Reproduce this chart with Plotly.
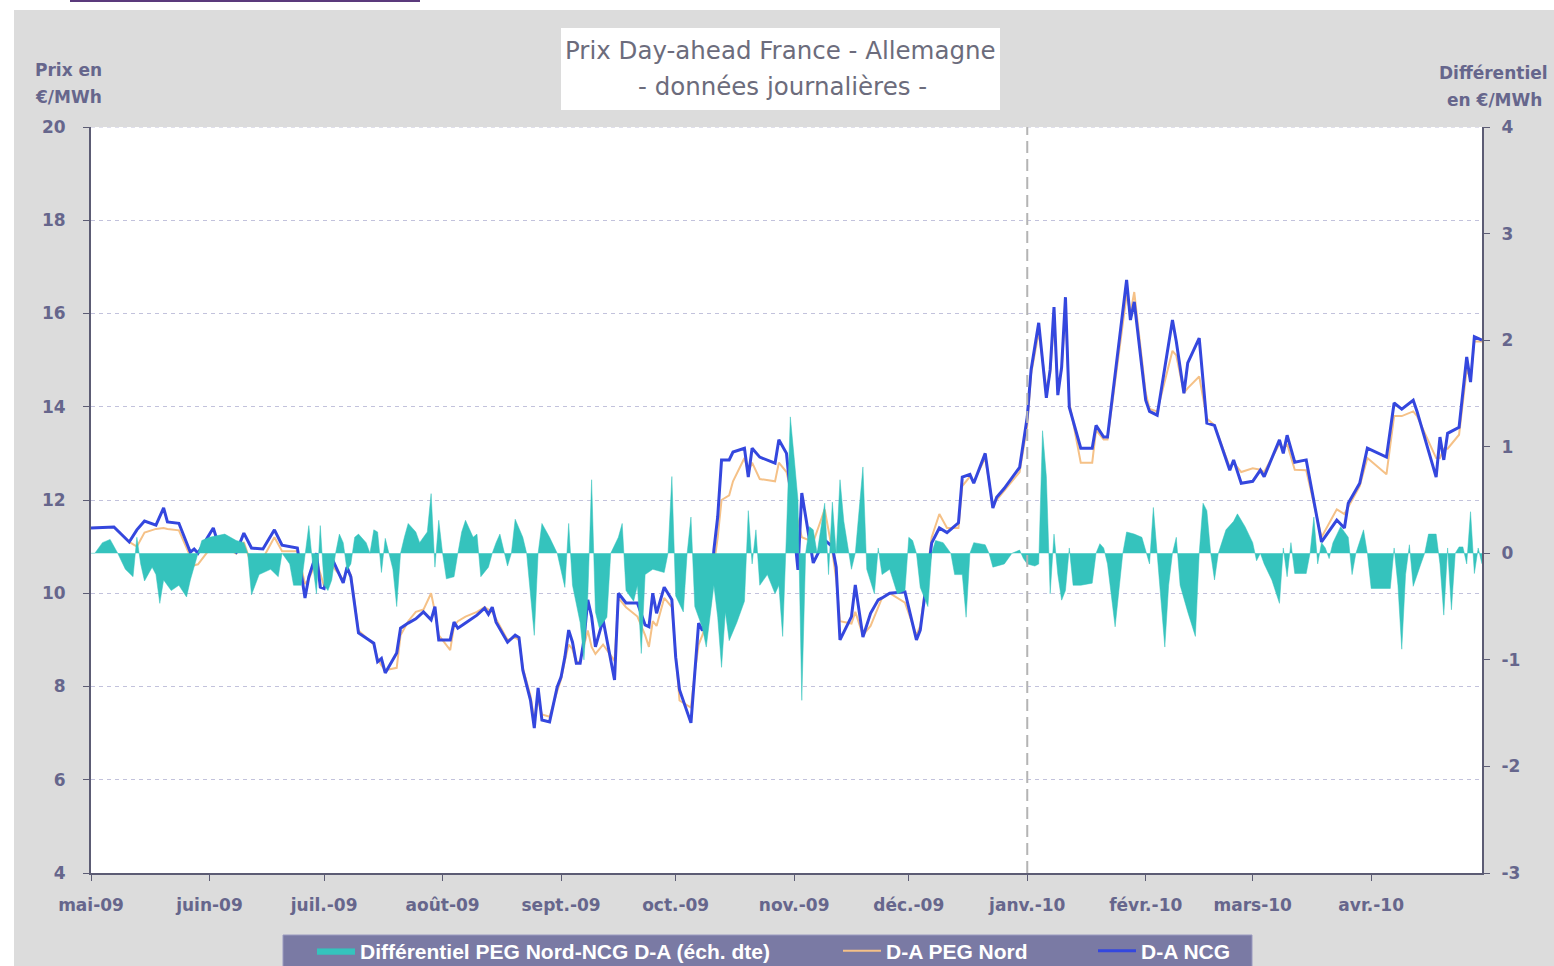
import plotly.graph_objects as go

# D-A NCG (blue) and D-A PEG Nord (orange), €/MWh, left axis
price_dates = [
    "2009-05-01", "2009-05-07", "2009-05-11", "2009-05-13", "2009-05-15", "2009-05-18", "2009-05-20",
    "2009-05-21", "2009-05-24", "2009-05-27", "2009-05-28", "2009-05-29",
    "2009-06-02", "2009-06-03", "2009-06-08", "2009-06-10", "2009-06-12", "2009-06-15", "2009-06-18",
    "2009-06-20", "2009-06-24", "2009-06-26", "2009-06-27", "2009-06-29", "2009-06-30",
    "2009-07-01", "2009-07-03", "2009-07-06", "2009-07-07", "2009-07-08", "2009-07-10", "2009-07-14",
    "2009-07-15", "2009-07-16", "2009-07-17", "2009-07-20", "2009-07-21", "2009-07-23", "2009-07-25",
    "2009-07-27", "2009-07-29", "2009-07-30", "2009-07-31",
    "2009-08-03", "2009-08-04", "2009-08-05", "2009-08-07", "2009-08-10", "2009-08-12", "2009-08-13",
    "2009-08-14", "2009-08-15", "2009-08-18", "2009-08-20", "2009-08-21", "2009-08-22", "2009-08-24",
    "2009-08-25", "2009-08-26", "2009-08-27", "2009-08-29", "2009-08-31",
    "2009-09-01", "2009-09-02", "2009-09-03", "2009-09-04", "2009-09-05", "2009-09-06", "2009-09-07",
    "2009-09-08", "2009-09-09", "2009-09-10", "2009-09-12", "2009-09-15", "2009-09-16", "2009-09-18",
    "2009-09-21", "2009-09-23", "2009-09-24", "2009-09-25", "2009-09-26", "2009-09-28", "2009-09-30",
    "2009-10-01", "2009-10-02", "2009-10-05", "2009-10-06", "2009-10-07", "2009-10-08", "2009-10-10",
    "2009-10-11", "2009-10-12", "2009-10-13", "2009-10-15", "2009-10-16", "2009-10-19", "2009-10-20",
    "2009-10-21", "2009-10-23", "2009-10-27", "2009-10-28", "2009-10-30",
    "2009-11-02", "2009-11-03", "2009-11-06", "2009-11-09", "2009-11-11", "2009-11-12", "2009-11-13",
    "2009-11-16", "2009-11-17", "2009-11-19", "2009-11-21", "2009-11-23", "2009-11-24", "2009-11-26",
    "2009-11-30",
    "2009-12-03", "2009-12-04", "2009-12-07", "2009-12-09", "2009-12-11", "2009-12-14", "2009-12-15",
    "2009-12-17", "2009-12-18", "2009-12-21", "2009-12-23", "2009-12-24", "2009-12-26", "2009-12-30",
    "2010-01-01", "2010-01-02", "2010-01-04", "2010-01-06", "2010-01-07", "2010-01-08", "2010-01-09",
    "2010-01-10", "2010-01-11", "2010-01-12", "2010-01-15", "2010-01-18", "2010-01-19", "2010-01-21",
    "2010-01-22", "2010-01-27", "2010-01-28", "2010-01-29",
    "2010-02-01", "2010-02-02", "2010-02-04", "2010-02-08", "2010-02-09", "2010-02-11", "2010-02-12",
    "2010-02-15", "2010-02-17", "2010-02-19", "2010-02-23", "2010-02-24", "2010-02-26",
    "2010-03-01", "2010-03-03", "2010-03-04", "2010-03-08", "2010-03-09", "2010-03-10", "2010-03-12",
    "2010-03-15", "2010-03-19", "2010-03-23", "2010-03-25", "2010-03-26", "2010-03-29", "2010-03-31",
    "2010-04-05", "2010-04-07", "2010-04-09", "2010-04-12", "2010-04-13", "2010-04-18", "2010-04-19",
    "2010-04-20", "2010-04-21", "2010-04-24", "2010-04-26", "2010-04-27", "2010-04-28", "2010-04-30",
]

ncg = [
    11.40, 11.42, 11.10, 11.36, 11.55, 11.46, 11.83, 11.53, 11.50, 10.88, 10.95, 10.86,
    11.40, 11.14, 10.88, 11.29, 10.97, 10.95, 11.36, 11.03, 10.97, 9.90, 10.35, 10.86, 10.13,
    10.10, 10.76, 10.22, 10.56, 10.35, 9.15, 8.93, 8.53, 8.60, 8.29, 8.72, 9.25, 9.36, 9.45,
    9.60, 9.43, 9.71, 9.00,
    9.00, 9.38, 9.25, 9.36, 9.53, 9.68, 9.55, 9.70, 9.38, 8.95, 9.10, 9.05, 8.35, 7.71,
    7.11, 7.97, 7.28, 7.24, 7.99,
    8.20, 8.63, 9.21, 8.95, 8.50, 8.50, 9.00, 9.86, 9.50, 8.85, 9.43, 8.14, 10.00, 9.79,
    9.79, 9.32, 9.28, 10.00, 9.57, 10.13, 9.86,
    8.63, 7.93, 7.22, 8.29, 9.36, 9.20, 9.86, 10.93, 11.64, 12.86, 12.86, 13.03, 13.11, 12.49,
    13.11, 12.92, 12.79, 13.29, 13.00,
    10.50, 12.15, 10.65, 11.14, 11.00, 10.56, 9.00, 9.50, 10.18, 9.06, 9.57, 9.86, 9.90, 10.00,
    10.03,
    9.00, 9.21, 11.08, 11.40, 11.30, 11.51, 12.49, 12.55, 12.36, 13.00, 11.83, 12.06, 12.25, 12.70,
    13.78, 14.79, 15.80, 14.19, 14.80, 16.14, 14.25, 14.85, 16.35, 13.99, 13.11, 13.11, 13.60, 13.35,
    13.35, 16.72, 15.86, 16.25,
    14.14, 13.90, 13.82, 15.86, 15.40, 14.29, 14.94, 15.47, 13.65, 13.60, 12.64, 12.86, 12.36,
    12.40, 12.64, 12.50, 13.29, 13.00, 13.39, 12.81, 12.86, 11.10, 11.57, 11.40, 11.93, 12.36, 13.11,
    12.92, 14.08, 13.95, 14.14, 13.90, 12.49, 13.35, 12.86, 13.43, 13.56, 15.07, 14.53, 15.50, 15.43,
]

peg_nord = [
    11.40, 11.42, 11.10, 11.00, 11.30, 11.38, 11.40, 11.38, 11.35, 10.80, 10.60, 10.62,
    11.05, 11.10, 10.85, 11.10, 10.60, 10.75, 11.20, 10.90, 10.90, 10.20, 10.30, 10.70, 10.40,
    10.15, 10.60, 10.30, 10.50, 10.40, 9.20, 8.90, 8.60, 8.45, 8.35, 8.40, 9.10, 9.40, 9.60,
    9.65, 10.00, 9.60, 9.10,
    8.78, 9.30, 9.40, 9.50, 9.60, 9.70, 9.65, 9.60, 9.45, 9.00, 9.05, 9.00, 8.40, 7.80,
    7.30, 7.70, 7.40, 7.35, 7.90,
    8.15, 8.55, 8.90, 8.80, 8.50, 8.55, 8.90, 9.20, 8.85, 8.70, 8.90, 8.55, 9.90, 9.70,
    9.50, 9.10, 8.85, 9.40, 9.30, 9.90, 9.70,
    8.60, 7.70, 7.55, 8.30, 8.90, 9.10, 9.70, 10.60, 11.20, 12.00, 12.10, 12.40, 12.90, 12.60,
    12.80, 12.45, 12.40, 12.80, 12.60,
    11.50, 11.20, 11.10, 11.80, 10.90, 10.30, 9.40, 9.35, 9.60, 9.10, 9.30, 9.70, 9.90, 10.00,
    9.80,
    9.10, 9.30, 11.20, 11.70, 11.40, 11.40, 12.30, 12.50, 12.40, 12.90, 11.90, 12.00, 12.20, 12.60,
    13.60, 14.70, 15.60, 14.40, 14.70, 15.90, 14.40, 14.80, 16.10, 14.10, 12.80, 12.80, 13.50, 13.30,
    13.30, 16.40, 16.00, 16.46,
    14.30, 13.95, 13.90, 15.20, 15.10, 14.30, 14.40, 14.65, 13.75, 13.60, 12.70, 12.80, 12.60,
    12.68, 12.65, 12.60, 13.20, 13.10, 13.20, 12.65, 12.64, 11.20, 11.80, 11.70, 11.85, 12.30, 12.90,
    12.55, 13.80, 13.80, 13.90, 13.80, 12.90, 12.90, 13.10, 13.10, 13.40, 14.80, 14.60, 15.40, 15.40,
]

# Différentiel PEG Nord - NCG D-A, €/MWh, right axis
diff_points = [
    ("2009-05-01", 0.00), ("2009-05-02", 0.00), ("2009-05-04", 0.10), ("2009-05-06", 0.13),
    ("2009-05-08", 0.00), ("2009-05-10", -0.15), ("2009-05-12", -0.22), ("2009-05-13", 0.15),
    ("2009-05-14", -0.10), ("2009-05-15", -0.26), ("2009-05-17", -0.13), ("2009-05-18", -0.20),
    ("2009-05-19", -0.47), ("2009-05-20", -0.25), ("2009-05-22", -0.35), ("2009-05-24", -0.30),
    ("2009-05-26", -0.41), ("2009-05-27", -0.25), ("2009-05-29", 0.00), ("2009-05-30", 0.12),
    ("2009-06-01", 0.15), ("2009-06-05", 0.18), ("2009-06-08", 0.12), ("2009-06-10", 0.10),
    ("2009-06-11", 0.00), ("2009-06-12", -0.39), ("2009-06-14", -0.20), ("2009-06-17", -0.15),
    ("2009-06-19", -0.22), ("2009-06-20", 0.00), ("2009-06-22", -0.10), ("2009-06-23", -0.30),
    ("2009-06-25", -0.30), ("2009-06-26", 0.00), ("2009-06-27", 0.26), ("2009-06-28", -0.10),
    ("2009-06-29", -0.38), ("2009-06-30", 0.26), ("2009-07-01", -0.30), ("2009-07-02", -0.35),
    ("2009-07-03", -0.25), ("2009-07-04", 0.00), ("2009-07-05", 0.18), ("2009-07-06", 0.10),
    ("2009-07-07", -0.16), ("2009-07-08", -0.10), ("2009-07-09", 0.15), ("2009-07-10", 0.18),
    ("2009-07-12", 0.10), ("2009-07-13", 0.00), ("2009-07-14", 0.22), ("2009-07-15", 0.20),
    ("2009-07-16", -0.18), ("2009-07-17", 0.14), ("2009-07-19", -0.15), ("2009-07-20", -0.50),
    ("2009-07-21", 0.00), ("2009-07-22", 0.15), ("2009-07-23", 0.28), ("2009-07-25", 0.20),
    ("2009-07-26", 0.10), ("2009-07-27", 0.15), ("2009-07-28", 0.20), ("2009-07-29", 0.56),
    ("2009-07-30", -0.13), ("2009-07-31", 0.31), ("2009-08-01", 0.00), ("2009-08-02", -0.24),
    ("2009-08-04", -0.22), ("2009-08-05", 0.00), ("2009-08-06", 0.20), ("2009-08-07", 0.31),
    ("2009-08-09", 0.15), ("2009-08-10", 0.18), ("2009-08-11", -0.22), ("2009-08-13", -0.13),
    ("2009-08-14", 0.00), ("2009-08-15", 0.10), ("2009-08-16", 0.18), ("2009-08-18", -0.12),
    ("2009-08-19", 0.00), ("2009-08-20", 0.32), ("2009-08-22", 0.15), ("2009-08-23", 0.00),
    ("2009-08-25", -0.77), ("2009-08-26", 0.00), ("2009-08-27", 0.28), ("2009-08-29", 0.15),
    ("2009-08-31", 0.00), ("2009-09-02", -0.32), ("2009-09-03", 0.28), ("2009-09-04", -0.30),
    ("2009-09-06", -0.65), ("2009-09-07", -1.00), ("2009-09-08", -0.40), ("2009-09-09", 0.69),
    ("2009-09-10", -0.55), ("2009-09-11", -0.70), ("2009-09-13", -0.60), ("2009-09-14", 0.00),
    ("2009-09-16", 0.15), ("2009-09-17", 0.28), ("2009-09-18", -0.35), ("2009-09-20", -0.45),
    ("2009-09-21", -0.30), ("2009-09-22", -0.94), ("2009-09-23", -0.20), ("2009-09-25", -0.15),
    ("2009-09-28", -0.18), ("2009-09-29", 0.00), ("2009-09-30", 0.72), ("2009-10-01", -0.40),
    ("2009-10-03", -0.55), ("2009-10-04", 0.00), ("2009-10-05", 0.34), ("2009-10-06", -0.50),
    ("2009-10-08", -0.70), ("2009-10-09", -0.88), ("2009-10-11", -0.30), ("2009-10-12", -0.60),
    ("2009-10-13", -1.07), ("2009-10-14", -0.55), ("2009-10-15", -0.82), ("2009-10-17", -0.65),
    ("2009-10-19", -0.45), ("2009-10-20", 0.40), ("2009-10-21", -0.10), ("2009-10-22", 0.22),
    ("2009-10-23", -0.30), ("2009-10-25", -0.20), ("2009-10-27", -0.38), ("2009-10-28", -0.30),
    ("2009-10-29", -0.78), ("2009-10-30", 0.20), ("2009-10-31", 1.28), ("2009-11-01", 0.90),
    ("2009-11-02", 0.50), ("2009-11-03", -1.38), ("2009-11-04", 0.00), ("2009-11-05", 0.25),
    ("2009-11-06", 0.22), ("2009-11-07", 0.00), ("2009-11-09", 0.47), ("2009-11-10", -0.20),
    ("2009-11-11", 0.48), ("2009-11-12", 0.00), ("2009-11-13", 0.69), ("2009-11-14", 0.30),
    ("2009-11-16", -0.15), ("2009-11-17", 0.00), ("2009-11-19", 0.81), ("2009-11-20", -0.15),
    ("2009-11-22", -0.38), ("2009-11-23", 0.05), ("2009-11-24", -0.20), ("2009-11-26", -0.15),
    ("2009-11-28", -0.38), ("2009-11-30", -0.35), ("2009-12-01", 0.15), ("2009-12-02", 0.12),
    ("2009-12-03", 0.00), ("2009-12-04", -0.32), ("2009-12-06", -0.50), ("2009-12-07", 0.00),
    ("2009-12-08", 0.12), ("2009-12-10", 0.10), ("2009-12-12", 0.00), ("2009-12-13", -0.20),
    ("2009-12-15", -0.20), ("2009-12-16", -0.60), ("2009-12-17", 0.00), ("2009-12-18", 0.10),
    ("2009-12-21", 0.08), ("2009-12-22", 0.00), ("2009-12-23", -0.13), ("2009-12-26", -0.10),
    ("2009-12-28", 0.00), ("2009-12-30", 0.03), ("2009-12-31", -0.05), ("2010-01-01", -0.10),
    ("2010-01-03", -0.12), ("2010-01-04", -0.10), ("2010-01-05", 1.15), ("2010-01-06", 0.72),
    ("2010-01-07", -0.38), ("2010-01-08", 0.18), ("2010-01-09", -0.20), ("2010-01-10", -0.44),
    ("2010-01-11", -0.35), ("2010-01-12", 0.05), ("2010-01-13", -0.30), ("2010-01-15", -0.30),
    ("2010-01-18", -0.28), ("2010-01-19", 0.00), ("2010-01-20", 0.09), ("2010-01-21", 0.05),
    ("2010-01-22", -0.10), ("2010-01-24", -0.69), ("2010-01-26", 0.00), ("2010-01-27", 0.20),
    ("2010-01-29", 0.18), ("2010-01-31", 0.15), ("2010-02-02", -0.10), ("2010-02-03", 0.43),
    ("2010-02-04", 0.00), ("2010-02-05", -0.40), ("2010-02-06", -0.88), ("2010-02-07", -0.30),
    ("2010-02-08", 0.00), ("2010-02-09", 0.15), ("2010-02-10", -0.30), ("2010-02-12", -0.55),
    ("2010-02-14", -0.78), ("2010-02-15", 0.00), ("2010-02-16", 0.47), ("2010-02-17", 0.40),
    ("2010-02-18", 0.00), ("2010-02-19", -0.25), ("2010-02-20", 0.00), ("2010-02-22", 0.22),
    ("2010-02-24", 0.30), ("2010-02-25", 0.37), ("2010-02-27", 0.25), ("2010-03-01", 0.10),
    ("2010-03-02", -0.07), ("2010-03-03", 0.00), ("2010-03-04", -0.10), ("2010-03-06", -0.25),
    ("2010-03-08", -0.47), ("2010-03-09", 0.05), ("2010-03-10", -0.22), ("2010-03-11", 0.10),
    ("2010-03-12", -0.19), ("2010-03-15", -0.19), ("2010-03-16", 0.00), ("2010-03-17", 0.34),
    ("2010-03-18", -0.10), ("2010-03-19", 0.10), ("2010-03-20", 0.05), ("2010-03-21", -0.05),
    ("2010-03-22", 0.10), ("2010-03-24", 0.25), ("2010-03-26", 0.15), ("2010-03-27", -0.20),
    ("2010-03-28", 0.00), ("2010-03-30", 0.22), ("2010-03-31", 0.00), ("2010-04-01", -0.33),
    ("2010-04-06", -0.33), ("2010-04-07", 0.05), ("2010-04-08", -0.30), ("2010-04-09", -0.90),
    ("2010-04-10", -0.20), ("2010-04-11", 0.08), ("2010-04-12", -0.31), ("2010-04-14", -0.10),
    ("2010-04-15", 0.00), ("2010-04-16", 0.18), ("2010-04-18", 0.18), ("2010-04-19", -0.10),
    ("2010-04-20", -0.58), ("2010-04-21", 0.05), ("2010-04-22", -0.53), ("2010-04-23", 0.00),
    ("2010-04-24", 0.06), ("2010-04-25", 0.06), ("2010-04-26", -0.10), ("2010-04-27", 0.39),
    ("2010-04-28", -0.19), ("2010-04-29", 0.05), ("2010-04-30", -0.10),
]
diff_dates = [d for d, _ in diff_points]
diff_values = [v for _, v in diff_points]

month_ticks = ["2009-05-01", "2009-06-01", "2009-07-01", "2009-08-01", "2009-09-01", "2009-10-01",
               "2009-11-01", "2009-12-01", "2010-01-01", "2010-02-01", "2010-03-01", "2010-04-01"]
month_labels = ["mai-09", "juin-09", "juil.-09", "août-09", "sept.-09", "oct.-09",
                "nov.-09", "déc.-09", "janv.-10", "févr.-10", "mars-10", "avr.-10"]
diff_ticks = [-3, -2, -1, 0, 1, 2, 3, 4]
diff_labels = ["-3", "-2", "-1", "0", "1", "2", "3", "4"]

TEAL = "#35c3bd"
ORANGE = "#f5c187"
BLUE = "#3447de"
AXIS = "#5c5c74"
TXT = "#66668c"

W, H = 1554, 966

# plot area in pixels: x 91..1482, y 127..873
def px(x):
    return (x - 91) / 1391

def py(y):
    return (873 - y) / 746

fig = go.Figure()

fig.add_trace(go.Scatter(
    x=diff_dates, y=diff_values, name="Différentiel PEG Nord-NCG D-A (éch. dte)",
    yaxis="y2", mode="lines", line=dict(color=TEAL, width=0.5),
    fill="tozeroy", fillcolor=TEAL, legend="legend", showlegend=True,
))
fig.add_trace(go.Scatter(
    x=price_dates, y=peg_nord, name="D-A PEG Nord", mode="lines",
    line=dict(color=ORANGE, width=2), legend="legend2", showlegend=True,
))
fig.add_trace(go.Scatter(
    x=price_dates, y=ncg, name="D-A NCG", mode="lines",
    line=dict(color=BLUE, width=3), legend="legend3", showlegend=True,
))

leg_font = dict(family="Liberation Sans, Arial, sans-serif", size=21, color="white", weight="bold")
leg_common = dict(orientation="h", bgcolor="rgba(0,0,0,0)", borderwidth=0, font=leg_font,
                  xref="container", yref="container", yanchor="middle", xanchor="left",
                  y=(H - 951) / H, itemwidth=38)

def label(text, x, y, size, color, **kw):
    return dict(text=text, xref="paper", yref="paper", x=px(x), y=py(y), showarrow=False,
                xanchor="center", yanchor="middle", font=dict(size=size, color=color), **kw)

fig.update_layout(
    width=W, height=H,
    showlegend=True,
    margin=dict(l=91, r=72, t=127, b=93, autoexpand=False),
    paper_bgcolor="#dcdcdc", plot_bgcolor="white",
    font=dict(family="DejaVu Sans, sans-serif", color=TXT),
    xaxis=dict(
        type="date", range=["2009-05-01", "2010-04-30"],
        tickvals=month_ticks, ticktext=month_labels,
        ticks="outside", ticklen=6, tickcolor=AXIS, tickwidth=1,
        showline=True, linecolor=AXIS, linewidth=2, showgrid=False, zeroline=False,
        tickfont=dict(size=17, weight="bold", color=TXT), ticklabelstandoff=10,
    ),
    yaxis=dict(
        range=[4, 20], dtick=2, ticks="outside", ticklen=6, tickcolor=AXIS,
        showline=True, linecolor=AXIS, linewidth=2, zeroline=False,
        showgrid=True, gridcolor="#c2c2dc", gridwidth=1, griddash="4px,4px",
        tickfont=dict(size=17, weight="bold", color=TXT), ticklabelstandoff=14,
    ),
    yaxis2=dict(
        overlaying="y", side="right", range=[-3, 4],
        tickvals=diff_ticks, ticktext=diff_labels,
        ticks="outside", ticklen=6, tickcolor=AXIS,
        showline=True, linecolor=AXIS, linewidth=2, showgrid=False, zeroline=False,
        tickfont=dict(size=17, weight="bold", color=TXT), ticklabelstandoff=8,
    ),
    legend=dict(x=312 / W, **leg_common),
    legend2=dict(x=838 / W, **leg_common),
    legend3=dict(x=1093 / W, **leg_common),
    shapes=[
        # white page strips around the chart frame
        dict(type="rect", xref="paper", yref="paper", x0=px(0), x1=px(1554), y0=py(10), y1=py(0),
             fillcolor="white", line=dict(width=0), layer="below"),
        dict(type="rect", xref="paper", yref="paper", x0=px(0), x1=px(14), y0=py(966), y1=py(0),
             fillcolor="white", line=dict(width=0), layer="below"),
        dict(type="line", xref="paper", yref="paper", x0=px(70), x1=px(420), y0=py(1), y1=py(1),
             line=dict(color="#5b3a7c", width=2)),
        # title box
        dict(type="rect", xref="paper", yref="paper", x0=px(561), x1=px(1000), y0=py(110), y1=py(28),
             fillcolor="white", line=dict(width=0), layer="below"),
        # legend bar
        dict(type="rect", xref="paper", yref="paper", x0=px(283), x1=px(1252), y0=py(975), y1=py(935),
             fillcolor="#7a7aa4", line=dict(color="#9a9ac0", width=1), layer="below"),
        # top gridline at 20
        dict(type="line", xref="paper", yref="y", x0=0, x1=1, y0=20, y1=20,
             line=dict(color="#c2c2dc", width=1, dash="4px,4px")),
        # year separator
        dict(type="line", xref="x", yref="paper", x0="2010-01-01", x1="2010-01-01", y0=0, y1=1,
             line=dict(color="#b4b4b4", width=2, dash="12px,6px")),
    ],
    annotations=[
        label("Prix Day-ahead France - Allemagne", 780, 51, 24.5, "#6c6c7c"),
        label("- données journalières -", 782, 86, 24.5, "#6c6c7c"),
        label("<b>Prix en</b>", 68, 70, 17, TXT),
        label("<b>€/MWh</b>", 68, 97, 17, TXT),
        label("<b>Différentiel</b>", 1493, 73, 17, TXT),
        label("<b>en €/MWh</b>", 1495, 100, 17, TXT),
    ],
)

fig.write_html("out.html", config={"displayModeBar": False},
               post_script="document.body.style.margin='0px';")
